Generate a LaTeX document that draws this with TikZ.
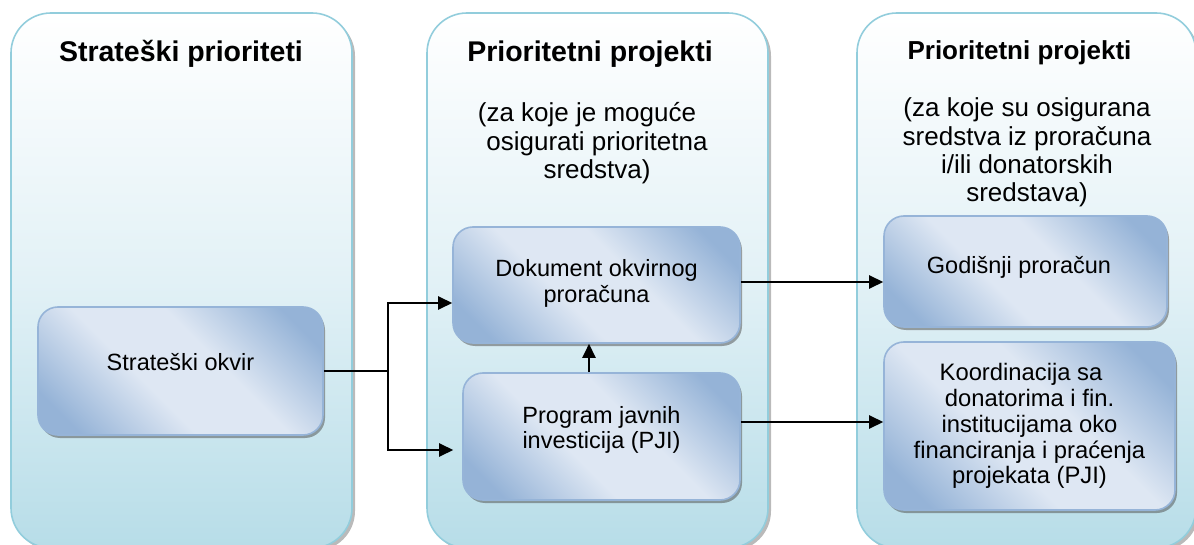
\documentclass[tikz,border=0pt]{standalone}
\usepackage{fontspec}
\setmainfont{Liberation Sans}
\usetikzlibrary{arrows.meta,shadows,calc}
\definecolor{panelbot}{RGB}{183,221,232}
\definecolor{panelmid}{RGB}{226,241,246}
\definecolor{panelline}{RGB}{146,205,220}
\definecolor{boxdark}{RGB}{149,179,215}
\definecolor{boxlight}{RGB}{222,231,243}
\definecolor{boxline}{RGB}{150,180,216}
\pgfdeclareverticalshading{boxshade}{100bp}{color(0bp)=(boxdark); color(22bp)=(boxdark); color(42bp)=(boxlight); color(58bp)=(boxlight); color(78bp)=(boxdark); color(100bp)=(boxdark)}
\newcommand{\tblock}[3][23.5]{{\fontsize{#1}{#2}\selectfont\begin{tabular}[t]{@{}c@{}}#3\end{tabular}}}
\tikzset{
  panel/.style={draw=panelline, line width=1.6pt, rounded corners=40pt,
    top color=white, bottom color=panelbot, middle color=panelmid,
    drop shadow={shadow xshift=3pt, shadow yshift=-3pt, fill=black!60, opacity=.45}},
  stagebox/.style={draw=boxline, line width=1.6pt, rounded corners=20pt,
    shading=boxshade, shading angle=-45,
    drop shadow={shadow xshift=2pt, shadow yshift=-3pt, fill=black!70, opacity=.5},
    inner sep=0pt, text height=0pt},
  ptitle/.style={anchor=base, inner sep=0pt, font=\bfseries\fontsize{28.5}{34}\selectfont},
  ptext/.style={anchor=base, inner sep=0pt},
  conn/.style={line width=2.5pt, draw=black},
  arr/.style={conn, -{Triangle[length=14pt,width=13pt]}}
}
\begin{document}
\begin{tikzpicture}[x=1pt,y=-1pt]
\useasboundingbox (0,0) rectangle (1194,545);
% panels
\node[panel, minimum width=341pt, minimum height=535pt] (p1) at (181.5,280.5) {};
\node[panel, minimum width=341pt, minimum height=535pt] (p2) at (597.5,280.5) {};
\node[panel, minimum width=339pt, minimum height=535pt] (p3) at (1026.5,280.5) {};
% titles
\node[ptitle] (t1) at (181,62) {Strateški prioriteti};
\node[ptitle] (t2) at (590,62) {Prioritetni projekti};
\node[ptitle, font=\bfseries\fontsize{26}{31}\selectfont] (t3) at (1019.5,60) {Prioritetni projekti};
% subtitles
\node[ptext] (s2) at (597,122) {\tblock[26]{28.5}{(za koje je moguće\hspace*{20pt}\\osigurati prioritetna\\sredstva)}};
\node[ptext] (s3) at (1027,117) {\tblock[26]{28.3}{(za koje su osigurana\\sredstva iz proračuna\\i/ili donatorskih\\sredstava)}};
% boxes
\node[stagebox, minimum width=285pt, minimum height=128pt, text depth=2pt] (so) at (180.5,371) {\tblock{25}{Strateški okvir}};
\node[stagebox, minimum width=287pt, minimum height=116pt, text depth=16pt] (dok) at (596.5,285) {\tblock{25}{Dokument okvirnog\\proračuna}};
\node[stagebox, minimum width=277pt, minimum height=127pt, text depth=27pt] (pji) at (601.5,436.5) {\tblock{25}{Program javnih\\investicija (PJI)}};
\node[stagebox, minimum width=283pt, minimum height=111pt, text height=5pt, text depth=0pt] (god) at (1025.5,271.5) {\tblock{25}{Godišnji proračun\hspace*{13pt}}};
\node[stagebox, minimum width=291pt, minimum height=168pt, text depth=92pt] (ko) at (1029.5,426) {\tblock[23.8]{26}{Koordinacija sa\hspace*{17pt}\\donatorima i fin.\\institucijama oko\\financiranja i praćenja\\projekata (PJI)}};
% connectors
\coordinate (j) at (388,371);
\draw[conn] (so.east) -- (so.east -| j) coordinate (jj);
\draw[arr] (jj) |- ([yshift=-18pt]dok.west);
\draw[arr] (jj) |- ([xshift=-9pt,yshift=-13.5pt]pji.west);
\draw[arr] ([xshift=-12.5pt]pji.north) -- ([xshift=-12.5pt]pji.north |- dok.south);
\draw[arr] ([yshift=3pt]dok.east) -- ([yshift=3pt]dok.east -| god.west);
\draw[arr] ([yshift=14.5pt]pji.east) -- ([yshift=14.5pt]pji.east -| ko.west);
\end{tikzpicture}
\end{document}
